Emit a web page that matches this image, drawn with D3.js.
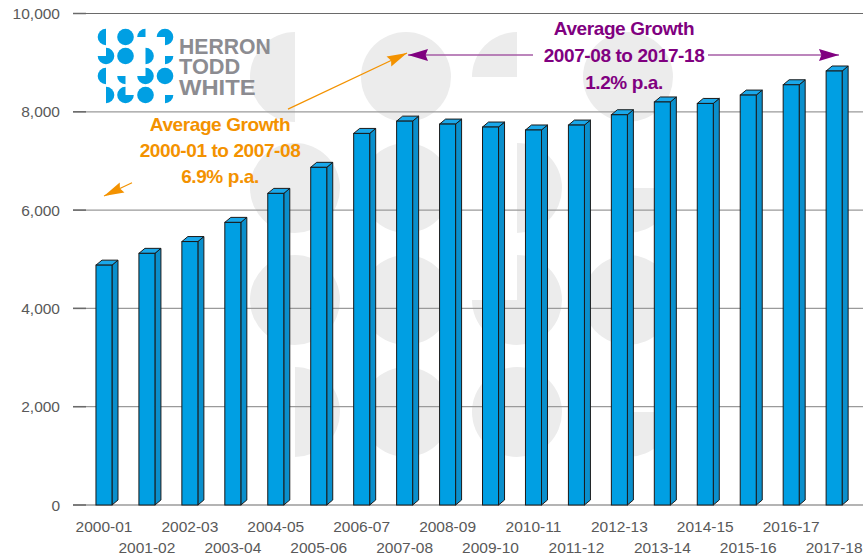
<!DOCTYPE html>
<html>
<head>
<meta charset="utf-8">
<script src="https://cdn.jsdelivr.net/npm/d3@7"></script>
<style>
body { margin: 0; background: #fff; }
svg { display: block; font-family: "Liberation Sans", Arial, sans-serif; }
</style>
</head>
<body>
<svg id="chart" width="863" height="555"></svg>
<script>
// financial years on the x axis
var years = ["2000-01", "2001-02", "2002-03", "2003-04", "2004-05", "2005-06",
    "2006-07", "2007-08", "2008-09", "2009-10", "2010-11", "2011-12",
    "2012-13", "2013-14", "2014-15", "2015-16", "2016-17", "2017-18"];

// values
var values = [4880, 5120, 5360, 5750, 6340, 6870, 7560, 7810, 7750,
    7690, 7630, 7730, 7940, 8200, 8170, 8340, 8550, 8830];

var yTicks = [0, 2000, 4000, 6000, 8000, 10000];

var earlyGrowth = ["Average Growth", "2000-01 to 2007-08", "6.9% p.a."];
var lateGrowth = ["Average Growth", "2007-08 to 2017-18", "1.2% p.a."];

var logoWords = ["HERRON", "TODD", "WHITE"];

var svg = d3.select("#chart");

var x = d3.scaleBand()
    .domain(years)
    .range([82.5, 855.6])
    .paddingInner(0.627)
    .paddingOuter(0.3135);

var y = d3.scaleLinear()
    .domain([0, 10000])
    .range([505, 13.5]);

var bw = x.bandwidth();
var dx = 6, dy = 5;   // fake 3d depth

// shape helper for the logo dots (quarter / half / full discs)
var arcs = {
    C: [0, 2 * Math.PI],
    R: [0, Math.PI],
    L: [Math.PI, 2 * Math.PI],
    qTR: [0, Math.PI / 2],
    qBR: [Math.PI / 2, Math.PI],
    qBL: [Math.PI, 1.5 * Math.PI],
    qTL: [1.5 * Math.PI, 2 * Math.PI],
    xTL: [0, 1.5 * Math.PI],
    xBL: [-Math.PI / 2, Math.PI],
    xTR: [Math.PI / 2, 2 * Math.PI]
};

function drawDots(g, layout, cols, rows, r, fill) {
    layout.forEach(function(row, ri) {
        row.forEach(function(k, ci) {
            var a = arcs[k];
            g.append("path")
                .attr("transform", "translate(" + cols[ci] + "," + rows[ri] + ")")
                .attr("d", d3.arc().innerRadius(0).outerRadius(r).startAngle(a[0]).endAngle(a[1])())
                .attr("fill", fill);
        });
    });
}

// big faint watermark behind the chart
var wm = svg.append("g");
drawDots(wm, [
    ["L", "C", "qTL", "C"],
    ["C", "C", "R", "qBR"],
    ["C", "C", "xTL", "C"],
    ["R", "C", "C", "qBR"]
], [295, 406, 517, 628], [77, 188, 300, 412], 45, "#ececec");

// gridlines + y labels
var grid = svg.append("g");
yTicks.forEach(function(t) {
    grid.append("line")
        .attr("x1", 73).attr("x2", 863)
        .attr("y1", y(t)).attr("y2", y(t))
        .attr("stroke", (t == 10000 || t == 0) ? "#6a6a6a" : "#9a9a9a")
        .attr("stroke-width", 1.2);
    grid.append("line")
        .attr("x1", 73).attr("x2", 86)
        .attr("y1", y(t)).attr("y2", y(t))
        .attr("stroke", "#6a6a6a")
        .attr("stroke-width", 1.5);
    grid.append("text")
        .attr("x", 60).attr("y", y(t) + 5.5)
        .attr("text-anchor", "end")
        .attr("font-size", 15.5)
        .attr("fill", "#595959")
        .text(d3.format(",")(t));
});

// logo
var logo = svg.append("g");
drawDots(logo, [
    ["L", "C", "qTL", "xBL"],
    ["xTL", "C", "R", "qBR"],
    ["L", "qBL", "xTL", "C"],
    ["R", "xTR", "C", "qBR"]
], [106, 125.5, 145.5, 165], [37, 56, 76, 95], 8.3, "#009fe3");
logoWords.forEach(function(w, i) {
    logo.append("text")
        .attr("x", 179).attr("y", 54 + i * 20.3)
        .attr("font-size", 22)
        .attr("font-weight", "bold")
        .attr("fill", "#8c8c91")
        .attr("textLength", w.length * 15.3)
        .attr("lengthAdjust", "spacingAndGlyphs")
        .text(w);
});

// bars
var bars = svg.append("g").selectAll("g")
    .data(years.map(function(d, i) { return {year: d, value: values[i]}; }))
    .join("g");

bars.append("path")
    .attr("d", function(d) {
        var x0 = x(d.year) + bw, y0 = y(d.value), yb = y(0);
        return "M" + x0 + "," + y0 + "L" + (x0 + dx) + "," + (y0 - dy) +
            "L" + (x0 + dx) + "," + (yb - dy) + "L" + x0 + "," + yb + "Z";
    })
    .attr("fill", "#0a8fcc")
    .attr("stroke", "#1a1a1a")
    .attr("stroke-width", 1)
    .attr("stroke-linejoin", "round");

bars.append("path")
    .attr("d", function(d) {
        var x0 = x(d.year), y0 = y(d.value);
        return "M" + x0 + "," + y0 + "L" + (x0 + dx) + "," + (y0 - dy) +
            "L" + (x0 + bw + dx) + "," + (y0 - dy) + "L" + (x0 + bw) + "," + y0 + "Z";
    })
    .attr("fill", "#1aa8ea")
    .attr("stroke", "#1a1a1a")
    .attr("stroke-width", 1)
    .attr("stroke-linejoin", "round");

bars.append("rect")
    .attr("x", function(d) { return x(d.year); })
    .attr("y", function(d) { return y(d.value); })
    .attr("width", bw)
    .attr("height", function(d) { return y(0) - y(d.value); })
    .attr("fill", "#009fe3")
    .attr("stroke", "#1a1a1a")
    .attr("stroke-width", 1);

// x labels, staggered on two rows
svg.append("g").selectAll("text")
    .data(years)
    .join("text")
    .attr("x", function(d) { return x(d) + bw / 2; })
    .attr("y", function(d, i) { return i % 2 == 0 ? 532 : 553; })
    .attr("text-anchor", "middle")
    .attr("font-size", 15.5)
    .attr("fill", "#595959")
    .text(function(d) { return d; });

// annotations
function arrowHead(g, tip, from, len, hw, fill) {
    var ang = Math.atan2(tip[1] - from[1], tip[0] - from[0]);
    var bx = tip[0] - len * Math.cos(ang), by = tip[1] - len * Math.sin(ang);
    var px = -Math.sin(ang) * hw, py = Math.cos(ang) * hw;
    g.append("path")
        .attr("d", "M" + tip[0] + "," + tip[1] + "L" + (bx + px) + "," + (by + py) +
            "L" + (bx + len * 0.12 * Math.cos(ang)) + "," + (by + len * 0.12 * Math.sin(ang)) +
            "L" + (bx - px) + "," + (by - py) + "Z")
        .attr("fill", fill);
}

function segment(g, a, b, color, w) {
    g.append("line")
        .attr("x1", a[0]).attr("y1", a[1])
        .attr("x2", b[0]).attr("y2", b[1])
        .attr("stroke", color).attr("stroke-width", w);
}

var orange = "#f39200", purple = "#800080";
var ann = svg.append("g");

// orange: one straight line, broken by the text
var oA = [104, 196], oB = [407, 53];
function onO(px) { return [px, oA[1] + (px - oA[0]) * (oB[1] - oA[1]) / (oB[0] - oA[0])]; }
segment(ann, oA, onO(132), orange, 1.2);
segment(ann, onO(288), oB, orange, 1.2);
arrowHead(ann, oA, onO(132), 20, 5.5, orange);
arrowHead(ann, oB, onO(288), 20, 5.5, orange);

// purple double arrow
segment(ann, [408, 55], [533, 55], "#a65ca6", 1.6);
segment(ann, [708, 55], [839, 55], "#a65ca6", 1.6);
arrowHead(ann, [408, 55], [533, 55], 20, 6, purple);
arrowHead(ann, [839, 55], [708, 55], 20, 6, purple);

earlyGrowth.forEach(function(s, i) {
    ann.append("text")
        .attr("x", 220).attr("y", 131 + i * 26)
        .attr("text-anchor", "middle")
        .attr("font-size", 19)
        .attr("font-weight", "bold")
        .attr("letter-spacing", -0.4)
        .attr("fill", orange)
        .text(s);
});
lateGrowth.forEach(function(s, i) {
    ann.append("text")
        .attr("x", 624).attr("y", 35 + i * 27)
        .attr("text-anchor", "middle")
        .attr("font-size", 19)
        .attr("font-weight", "bold")
        .attr("letter-spacing", -0.4)
        .attr("fill", purple)
        .text(s);
});
</script>
</body>
</html>
